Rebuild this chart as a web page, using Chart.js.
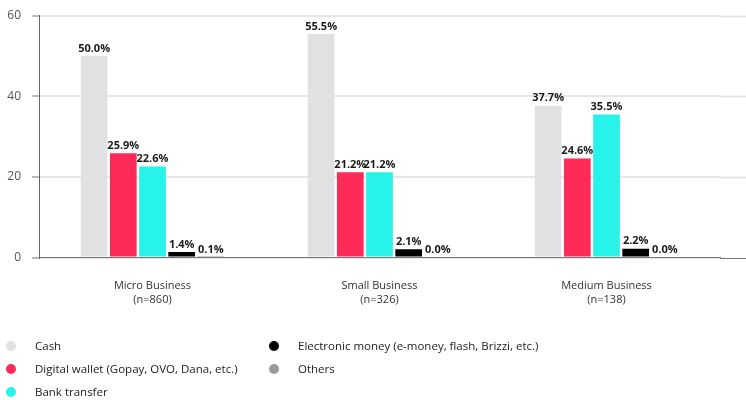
<!DOCTYPE html>
<html>
<head>
<meta charset="utf-8">
<script src="https://cdn.jsdelivr.net/npm/chart.js@4"></script>
<style>
  html, body { margin: 0; padding: 0; background: #fff; }
  #wrap { position: relative; width: 746px; height: 400px; }
  #legend {
    position: absolute; left: 0; top: 334px;
    display: grid; grid-auto-flow: column;
    grid-template-rows: repeat(3, 23px);
    grid-template-columns: 263px 300px;
    font: 11.5px "Open Sans", sans-serif; color: #222;
  }
  #legend .item { display: flex; align-items: center; }
  #legend .dot { width: 10px; height: 10px; border-radius: 50%; margin: 0 19px 0 6px; }
</style>
</head>
<body>
<div id="wrap">
  <canvas id="payChart" width="746" height="400"></canvas>
  <div id="legend"></div>
</div>
<script>
// Payment methods used, by business size (% of respondents)
const categories = [
  ['Micro Business', '(n=860)'],
  ['Small Business', '(n=326)'],
  ['Medium Business', '(n=138)']
];
const seriesNames = [
  'Cash',
  'Digital wallet (Gopay, OVO, Dana, etc.)',
  'Bank transfer',
  'Electronic money (e-money, flash, Brizzi, etc.)',
  'Others'
];
const cash = [50.0, 55.5, 37.7];
const digitalWallet = [25.9, 21.2, 24.6];
const bankTransfer = [22.6, 21.2, 35.5];
const electronicMoney = [1.4, 2.1, 2.2];
const others = [0.1, 0.0, 0.0];
const yTicks = [0, 20, 40, 60];

const colors = ['#e1e1e3', '#ff2a57', '#27f3ea', '#000000', '#9a9a9a'];
const seriesValues = [cash, digitalWallet, bankTransfer, electronicMoney, others];

// value labels above each bar
const valueLabels = {
  id: 'valueLabels',
  afterDatasetsDraw(chart) {
    const ctx = chart.ctx;
    ctx.save();
    ctx.font = 'bold 11px "Open Sans"';
    ctx.fillStyle = '#1a1a1a';
    ctx.textAlign = 'center';
    ctx.textBaseline = 'bottom';
    chart.data.datasets.forEach((ds, i) => {
      chart.getDatasetMeta(i).data.forEach((bar, j) => {
        ctx.fillText(ds.data[j].toFixed(1) + '%', bar.x, bar.y - 2);
      });
    });
    ctx.restore();
  }
};

// carry gridlines and the baseline out to the right edge of the canvas
const extendGrid = {
  id: 'extendGrid',
  beforeDatasetsDraw(chart) {
    const { ctx, chartArea, scales } = chart;
    ctx.save();
    scales.y.ticks.forEach(t => {
      const y = Math.round(scales.y.getPixelForValue(t.value)) + 0.5;
      ctx.strokeStyle = t.value === 0 ? '#777' : '#e6e6e6';
      ctx.lineWidth = t.value === 0 ? 1 : 2;
      ctx.beginPath();
      ctx.moveTo(chartArea.right, y);
      ctx.lineTo(chart.width, y);
      ctx.stroke();
    });
    ctx.restore();
  }
};

const payChart = new Chart(document.getElementById('payChart'), {
  type: 'bar',
  data: {
    labels: categories,
    datasets: seriesNames.map((name, i) => ({
      label: name,
      data: seriesValues[i],
      backgroundColor: colors[i],
      categoryPercentage: 0.643,
      barPercentage: 0.915
    }))
  },
  options: {
    responsive: false,
    animation: false,
    layout: { padding: { top: 14, right: 26, bottom: 72, left: 0 } },
    plugins: {
      legend: { display: false },
      tooltip: { enabled: false }
    },
    scales: {
      x: {
        grid: { display: false, drawTicks: false },
        border: { display: true, color: '#777', width: 1 },
        ticks: {
          padding: 22,
          color: '#333',
          font: { family: 'Open Sans', size: 11 }
        }
      },
      y: {
        min: 0,
        max: 60,
        afterFit(scale) { scale.width = 39; },
        afterBuildTicks(scale) { scale.ticks = yTicks.map(v => ({ value: v })); },
        grid: {
          color: '#e6e6e6',
          lineWidth: 2,
          tickLength: 7,
          tickColor: '#777',
          tickWidth: 1
        },
        border: { display: true, color: '#666', width: 1 },
        ticks: {
          padding: 11,
          color: '#555',
          font: { family: 'Open Sans', size: 12, lineHeight: 0.8 }
        }
      }
    }
  },
  plugins: [valueLabels, extendGrid]
});

// legend laid out in columns of three
const legend = document.getElementById('legend');
seriesNames.forEach((name, i) => {
  const item = document.createElement('div');
  item.className = 'item';
  item.innerHTML = '<span class="dot" style="background:' + colors[i] + '"></span><span></span>';
  item.lastChild.textContent = name;
  legend.appendChild(item);
});
</script>
</body>
</html>
